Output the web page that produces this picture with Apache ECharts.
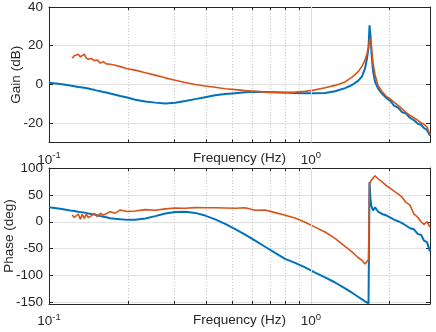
<!DOCTYPE html>
<html>
<head>
<meta charset="utf-8">
<script src="https://cdn.jsdelivr.net/npm/echarts@6/dist/echarts.min.js"></script>
<style>
    html, body { margin: 0; padding: 0; background: #fff; }
    #chart { width: 436px; height: 332px; }
</style>
</head>
<body>
<div id="chart"></div>
<script>
// frequency points (Hz)
const freq = [
    0.1, 0.1104, 0.1206, 0.1227, 0.1249, 0.1271, 0.1294, 0.1317, 0.134, 0.1364,
    0.1388, 0.1413, 0.145, 0.1489, 0.1529, 0.157, 0.1612, 0.1655, 0.1714, 0.1791,
    0.1872, 0.199, 0.2136, 0.2332, 0.2546, 0.278, 0.3035, 0.3314, 0.3618, 0.395,
    0.4313, 0.4709, 0.5142, 0.5614, 0.613, 0.6692, 0.7307, 0.7978, 0.8711, 0.9511,
    1.0385, 1.1338, 1.238, 1.3516, 1.4374, 1.5153, 1.5695, 1.6115, 1.64, 1.6618,
    1.6765, 1.6913, 1.7062, 1.7289, 1.7596, 1.8067, 1.8715, 1.9384, 2.0077, 2.0795,
    2.1538, 2.2306, 2.3104, 2.393, 2.4785, 2.567, 2.6357, 2.7061, 2.7795, 2.8537
];

const gainBlue = [
    0.9, 0.2, -0.6, -0.8, -0.9, -1.1, -1.3, -1.4, -1.6, -1.7,
    -1.9, -2.1, -2.5, -2.8, -3.2, -3.5, -3.9, -4.2, -4.7, -5.3,
    -6.0, -6.8, -7.9, -8.8, -9.4, -9.8, -9.5, -8.6, -7.6, -6.6,
    -5.6, -4.9, -4.5, -4.1, -3.8, -3.9, -4.0, -4.2, -4.4, -4.6,
    -4.5, -4.4, -3.5, -1.9, -0.3, 1.8, 4.2, 8.3, 13.5, 19,
    30.5, 25, 16, 7, 1.4, -2, -4.8, -6.8, -8.4, -10.9,
    -12.0, -14.3, -15.0, -17.2, -18.5, -20.3, -20.8, -22.5, -23.5, -26.5
];

const gainRed = [
    null, null, null, 13.5, 14.8, 13.8, 15.6, 14.2, 14.8, 15.7,
    13.6, 13.0, 13.4, 12.3, 12.6, 11.0, 11.8, 10.6, 10.4, 9.9,
    9.2, 8.1, 7.4, 6.0, 4.8, 3.4, 2.2, 1.0, 0.0, -0.8,
    -1.5, -2.2, -2.7, -3.2, -3.6, -4.0, -4.1, -4.3, -4.0, -3.6,
    -2.8, -1.7, -0.5, 1.3, 3.8, 6.5, 9.4, 12.5, 16, 19.5,
    22.5, 24, 19, 11, 5, -0.5, -3.8, -6, -7.5, -9.2,
    -10.8, -12.6, -14.5, -16, -17.2, -18.6, -19.8, -20.6, -22, -26
];

const phaseBlue = [
    27, 24, 21, 20.5, 20, 19.5, 18.6, 18, 17.5, 17,
    16.3, 15.5, 14.5, 13.3, 12.2, 10.7, 9.5, 8.3, 6.6, 5.4,
    4.5, 3.5, 3.6, 6.0, 10.5, 15.5, 18.3, 18.5, 16.5, 11.5,
    4.5, -3.8, -13.5, -24, -35, -46.5, -58, -69, -76.5, -85,
    -94.5, -103.5, -113, -124, -132, -139.5, -144.5, -148, -151, -152,
    74, 40, 28, 21, 27, 19, 14.5, 12, 8, 4,
    1, -2.5, -7, -12, -14, -23, -24, -35, -38, -55
];

const phaseRed = [
    null, null, null, 12.6, 8, 6.4, 14.4, 4.5, 13.8, 6.4,
    13.8, 8, 11, 15.7, 9.4, 15.7, 12.6, 15, 18.8, 16,
    22, 19, 20, 22.5, 21.5, 24, 25.5, 25, 26.2, 26,
    26, 25.5, 25, 26, 21.5, 22, 17, 12, 7, -1,
    -10, -19, -31, -46, -56, -66.5, -72, -78.6, -76, -70,
    71.5, 74, 77.7, 80, 85.7, 80, 74, 67.5, 62.5, 57,
    52, 46, 36, 31, 14, 8, 0, -5, 0, -10
];

// ticks
const xTicks = [0.1, 0.2, 0.3, 0.4, 0.5, 0.6, 0.7, 0.8, 0.9, 1, 2];
const xLabels = [0.1, 1];
const gainTicks = [-20, 0, 20, 40];
const phaseTicks = [-150, -100, -50, 0, 50, 100];

const FONT = 'Liberation Sans, Arial, sans-serif';
const INK = '#262626';
const BLUE = '#0072BD';
const RED = '#D95319';
const xMin = 0.1;
const xMax = 2.8537;

function pairs(ys) {
    return freq.map((f, i) => [f, ys[i]]).filter(p => p[1] != null);
}

function bottomAxis(gridIndex) {
    return {
        type: 'log',
        logBase: 10,
        gridIndex: gridIndex,
        position: 'bottom',
        min: xMin,
        max: xMax,
        name: 'Frequency (Hz)',
        nameLocation: 'middle',
        nameGap: 9,
        nameMoveOverlap: false,
        nameTextStyle: { color: INK, fontSize: 13.5, fontFamily: FONT, verticalAlign: 'top' },
        axisLine: { show: true, onZero: false, lineStyle: { color: INK, width: 1 } },
        axisTick: { show: true, inside: true, length: 3, customValues: xTicks, lineStyle: { color: INK } },
        axisLabel: {
            customValues: xLabels,
            margin: 8,
            formatter: (v) => '{b|10}{s|' + Math.round(Math.log10(v)) + '}',
            rich: {
                b: { fontSize: 13.5, fontFamily: FONT, color: INK },
                s: { fontSize: 9.5, fontFamily: FONT, color: INK, padding: [0, 0, 9, 0] }
            }
        },
        splitLine: { show: false }
    };
}

function topAxis(gridIndex) {
    return {
        type: 'log',
        logBase: 10,
        gridIndex: gridIndex,
        position: 'top',
        min: xMin,
        max: xMax,
        axisLine: { show: true, onZero: false, lineStyle: { color: INK, width: 1 } },
        axisTick: { show: true, inside: true, length: 3, customValues: xTicks, lineStyle: { color: INK } },
        axisLabel: { show: false },
        splitLine: { show: true, lineStyle: { color: '#c4c4c4', type: [1, 2], width: 1 } }
    };
}

function leftAxis(gridIndex, min, max, ticks, name, gap) {
    return {
        type: 'value',
        gridIndex: gridIndex,
        position: 'left',
        min: min,
        max: max,
        name: name,
        nameLocation: 'middle',
        nameGap: gap,
        nameMoveOverlap: false,
        nameTextStyle: { color: INK, fontSize: 13.5, fontFamily: FONT },
        axisLine: { show: true, onZero: false, lineStyle: { color: INK, width: 1 } },
        axisTick: { show: true, inside: true, length: 4, customValues: ticks, lineStyle: { color: INK } },
        axisLabel: { customValues: ticks, margin: 6, color: INK, fontSize: 13.5, fontFamily: FONT },
        splitLine: { show: true, lineStyle: { color: '#e2e2e2', width: 1 } }
    };
}

function rightAxis(gridIndex, min, max, ticks) {
    return {
        type: 'value',
        gridIndex: gridIndex,
        position: 'right',
        min: min,
        max: max,
        axisLine: { show: true, onZero: false, lineStyle: { color: INK, width: 1 } },
        axisTick: { show: true, inside: true, length: 4, customValues: ticks, lineStyle: { color: INK } },
        axisLabel: { show: false },
        splitLine: { show: false }
    };
}

function line(name, ys, color, width, xi, yi, major) {
    const s = {
        name: name,
        type: 'line',
        xAxisIndex: xi,
        yAxisIndex: yi,
        data: pairs(ys),
        showSymbol: false,
        lineStyle: { color: color, width: width },
        itemStyle: { color: color },
        z: width > 1.8 ? 3 : 4
    };
    if (major) {
        s.markLine = {
            silent: true,
            symbol: 'none',
            label: { show: false },
            lineStyle: { color: '#dcdcdc', type: 'solid', width: 1 },
            data: [{ xAxis: 1 }]
        };
    }
    return s;
}

const chart = echarts.init(document.getElementById('chart'));
chart.setOption({
    animation: false,
    backgroundColor: '#fff',
    grid: [
        { left: 49, right: 6, top: 7, bottom: 189.5, containLabel: false, outerBoundsMode: 'none' },
        { left: 49, right: 6, top: 168, bottom: 28, containLabel: false, outerBoundsMode: 'none' }
    ],
    xAxis: [bottomAxis(0), topAxis(0), bottomAxis(1), topAxis(1)],
    yAxis: [
        leftAxis(0, -30, 40, gainTicks, 'Gain (dB)', 26),
        rightAxis(0, -30, 40, gainTicks),
        leftAxis(1, -153, 100, phaseTicks, 'Phase (deg)', 33),
        rightAxis(1, -153, 100, phaseTicks)
    ],
    series: [
        line('gain 1', gainBlue, BLUE, 2, 0, 0, true),
        line('gain 2', gainRed, RED, 1.6, 0, 0, false),
        line('phase 1', phaseBlue, BLUE, 2, 2, 2, true),
        line('phase 2', phaseRed, RED, 1.6, 2, 2, false)
    ]
});
</script>
</body>
</html>
